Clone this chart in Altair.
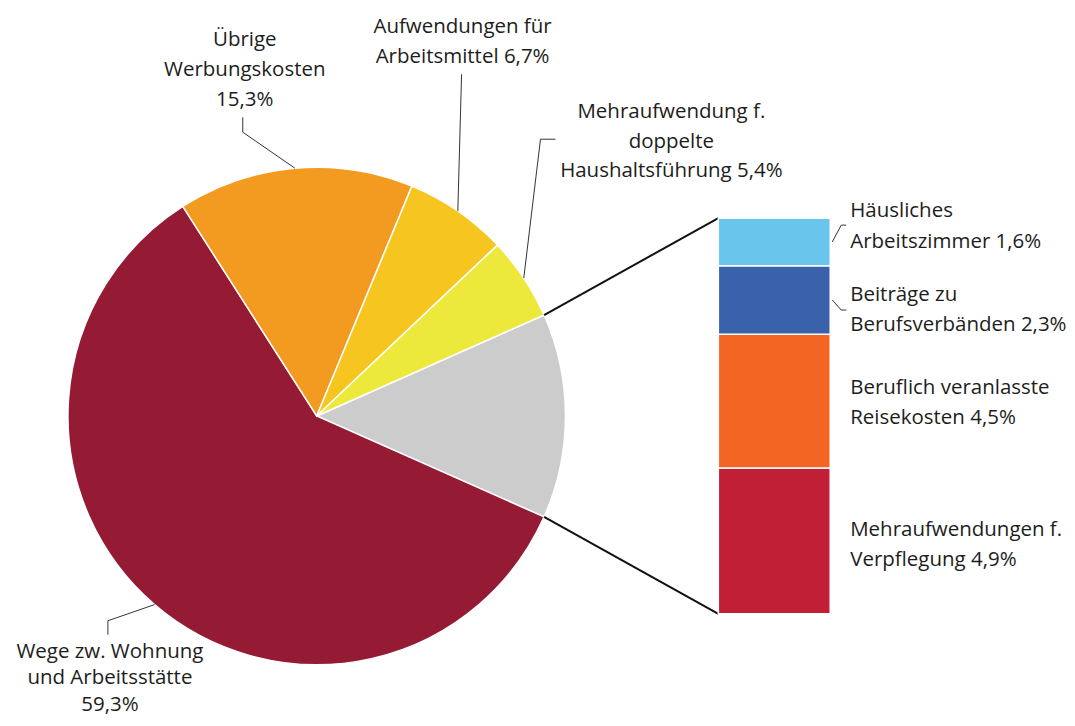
import math
import altair as alt
import pandas as pd

# ---------------- data ----------------
pie_cats = ["Rest", "Wege", "Übrige", "Arbeitsmittel", "Doppelte"]
pie_texts = [
    "",
    "Wege zw. Wohnung\nund Arbeitsstätte\n59,3%",
    "Übrige\nWerbungskosten\n15,3%",
    "Aufwendungen für\nArbeitsmittel 6,7%",
    "Mehraufwendung f.\ndoppelte\nHaushaltsführung 5,4%",
]
bar_cats = ["Verpflegung", "Reisekosten", "Berufsverbände", "Arbeitszimmer"]
bar_vals = [4.9, 4.5, 2.3, 1.6]
bar_texts = [
    "Mehraufwendungen f.\nVerpflegung 4,9%",
    "Beruflich veranlasste\nReisekosten 4,5%",
    "Beiträge zu\nBerufsverbänden 2,3%",
    "Häusliches\nArbeitszimmer 1,6%",
]
rest_total = round(sum(bar_vals), 1)
pie_vals = [rest_total, 59.3, 15.3, 6.7, 5.4]

# ---------------- style ----------------
pie_colors = ["#CCCCCC", "#951B34", "#F39A20", "#F6C51F", "#EDE83C"]
bar_colors = ["#C01F36", "#F26522", "#3A62AC", "#6AC5EC"]
FONT = "Open Sans"
FS = 20.5
TXT = "#1d1d1b"

# ---------------- layout (page pixels) ----------------
W, H = 1059, 705
M = 8
CX, CY, R = 317, 416, 249
BAR_X0, BAR_X1, BAR_TOP, BAR_BOT = 719, 831, 218, 614

pie_label_pos = {  # centre x, first line y, line height
    "Wege": (110, 652, 26.5),
    "Übrige": (245, 40, 30),
    "Arbeitsmittel": (463, 27, 30),
    "Doppelte": (672, 112, 29.5),
}
pie_elbows = {
    "Wege": [(108, 621), (108, 635)],
    "Übrige": [(243, 132), (243, 117)],
    "Arbeitsmittel": [(462, 74)],
    "Doppelte": [(541, 139), (556, 139)],
}
bar_label_pos = {
    "Verpflegung": (851, 530, 30),
    "Reisekosten": (851, 388, 30.5),
    "Berufsverbände": (851, 295, 30),
    "Arbeitszimmer": (851, 211, 30.5),
}
bar_elbows = {
    "Berufsverbände": [(842, 310), (847, 310)],
    "Arbeitszimmer": [(842, 225), (847, 225)],
}

# ---------------- derived geometry ----------------
total = sum(pie_vals)
rest_span = pie_vals[0] / total * 2 * math.pi
a0 = math.pi / 2 - rest_span / 2


def edge(a, r=R):
    return (CX + r * math.sin(a), CY - r * math.cos(a))


angles = []
acc = a0
for v in pie_vals:
    span = v / total * 2 * math.pi
    angles.append((acc, acc + span))
    acc += span

pie_df = pd.DataFrame({"cat": pie_cats, "val": pie_vals, "idx": list(range(len(pie_cats)))})
bar_df = pd.DataFrame({"cat": bar_cats, "val": bar_vals, "idx": list(range(len(bar_cats)))})

# labels: one row per line so that line spacing is exact
lab_rows = []
for c, t in zip(pie_cats, pie_texts):
    if c in pie_label_pos:
        x, y, lh = pie_label_pos[c]
        for k, line in enumerate(t.split("\n")):
            lab_rows.append({"x": x, "y": y + k * lh, "text": line, "al": "c"})
for c, t in zip(bar_cats, bar_texts):
    x, y, lh = bar_label_pos[c]
    for k, line in enumerate(t.split("\n")):
        lab_rows.append({"x": x, "y": y + k * lh, "text": line, "al": "l"})
lab_df = pd.DataFrame(lab_rows)

# leader lines
lead_rows = []
for i, c in enumerate(pie_cats):
    if c in pie_elbows:
        s, e = angles[i]
        pts = [edge((s + e) / 2)] + pie_elbows[c]
        for j, (x, y) in enumerate(pts):
            lead_rows.append({"g": c, "o": j, "x": x, "y": y})
cum = 0.0
for c, v in zip(bar_cats, bar_vals):
    mid = cum + v / 2
    cum += v
    if c in bar_elbows:
        ymid = BAR_BOT - mid / rest_total * (BAR_BOT - BAR_TOP)
        pts = [(BAR_X1 + 2, ymid)] + bar_elbows[c]
        for j, (x, y) in enumerate(pts):
            lead_rows.append({"g": c, "o": j, "x": x, "y": y})
lead_df = pd.DataFrame(lead_rows)

# connectors from grey slice to bar
p_top = edge(angles[0][0])
p_bot = edge(angles[0][1])
conn_df = pd.DataFrame([
    {"g": "top", "o": 0, "x": p_top[0], "y": p_top[1]},
    {"g": "top", "o": 1, "x": BAR_X0, "y": BAR_TOP},
    {"g": "bot", "o": 0, "x": p_bot[0], "y": p_bot[1]},
    {"g": "bot", "o": 1, "x": BAR_X0, "y": BAR_BOT},
])

XS = alt.Scale(domain=[M, M + W], range=[0, W])
YS = alt.Scale(domain=[M, M + H], range=[0, H])

pie = alt.Chart(pie_df).mark_arc(outerRadius=R, stroke="white", strokeWidth=1.5).encode(
    theta=alt.Theta("val:Q", stack=True, scale=alt.Scale(range=[a0, a0 + 2 * math.pi])),
    order=alt.Order("idx:Q"),
    color=alt.Color("cat:N", scale=alt.Scale(domain=pie_cats, range=pie_colors), legend=None),
    x=alt.value(CX - M),
    y=alt.value(CY - M),
)

BYS = alt.Scale(domain=[0, rest_total], range=[BAR_BOT - M, BAR_TOP - M])
bar = alt.Chart(bar_df).transform_window(
    cum="sum(val)", sort=[alt.SortField("idx", order="ascending")],
    frame=[None, 0],
).transform_calculate(
    start="datum.cum - datum.val"
).mark_rect(stroke="white", strokeWidth=1.5).encode(
    x=alt.value(BAR_X0 - M),
    x2=alt.value(BAR_X1 - M),
    y=alt.Y("cum:Q", axis=None, scale=BYS),
    y2="start:Q",
    color=alt.Color("cat:N", scale=alt.Scale(domain=bar_cats, range=bar_colors), legend=None),
)

conn = alt.Chart(conn_df).mark_line(color="#111111", strokeWidth=2).encode(
    x=alt.X("x:Q", scale=XS, axis=None),
    y=alt.Y("y:Q", scale=YS, axis=None),
    detail="g:N",
    order="o:Q",
)

lead = alt.Chart(lead_df).mark_line(color="#333333", strokeWidth=1).encode(
    x=alt.X("x:Q", scale=XS, axis=None),
    y=alt.Y("y:Q", scale=YS, axis=None),
    detail="g:N",
    order="o:Q",
)

txt_c = alt.Chart(lab_df[lab_df.al == "c"]).mark_text(
    align="center", baseline="middle", font=FONT, fontSize=FS, color=TXT,
).encode(
    x=alt.X("x:Q", scale=XS, axis=None),
    y=alt.Y("y:Q", scale=YS, axis=None),
    text="text:N",
)
txt_l = alt.Chart(lab_df[lab_df.al == "l"]).mark_text(
    align="left", baseline="middle", font=FONT, fontSize=FS, color=TXT,
).encode(
    x=alt.X("x:Q", scale=XS, axis=None),
    y=alt.Y("y:Q", scale=YS, axis=None),
    text="text:N",
)

chart = alt.layer(pie, conn, bar, lead, txt_c, txt_l).resolve_scale(
    y="independent", color="independent"
).properties(width=W, height=H, padding=0).configure_view(stroke=None)

chart.save("out.html", embed_options={"renderer": "svg", "actions": False})
